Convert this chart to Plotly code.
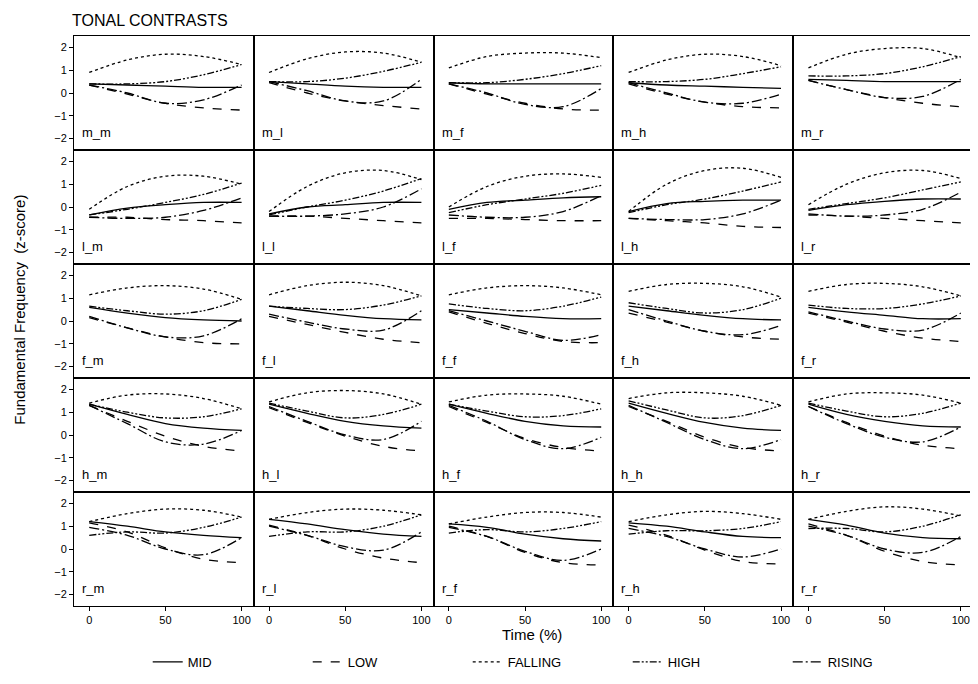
import plotly.graph_objects as go
from plotly.subplots import make_subplots

TIME = [0, 25, 50, 75, 100]
TONES = ["m", "l", "f", "h", "r"]
Y_TICKS = [-2, -1, 0, 1, 2]
X_TICKS = [0, 50, 100]

MID = {
    "m_m": [0.4, 0.35, 0.3, 0.25, 0.25], "m_l": [0.5, 0.4, 0.3, 0.25, 0.25],
    "m_f": [0.45, 0.4, 0.4, 0.4, 0.4], "m_h": [0.45, 0.35, 0.3, 0.25, 0.2],
    "m_r": [0.6, 0.55, 0.5, 0.5, 0.5],
    "l_m": [-0.35, -0.05, 0.1, 0.2, 0.2], "l_l": [-0.3, 0.0, 0.1, 0.2, 0.2],
    "l_f": [-0.1, 0.2, 0.3, 0.4, 0.45], "l_h": [-0.2, 0.15, 0.25, 0.3, 0.3],
    "l_r": [-0.15, 0.1, 0.25, 0.35, 0.35],
    "f_m": [0.6, 0.35, 0.15, 0.05, 0.0], "f_l": [0.65, 0.45, 0.25, 0.1, 0.05],
    "f_f": [0.5, 0.35, 0.2, 0.1, 0.1], "f_h": [0.65, 0.45, 0.25, 0.1, 0.05],
    "f_r": [0.6, 0.4, 0.25, 0.1, 0.1],
    "h_m": [1.35, 0.9, 0.5, 0.3, 0.2], "h_l": [1.35, 0.95, 0.6, 0.4, 0.3],
    "h_f": [1.35, 0.95, 0.6, 0.4, 0.35], "h_h": [1.4, 0.95, 0.55, 0.3, 0.2],
    "h_r": [1.35, 0.9, 0.6, 0.4, 0.35],
    "r_m": [1.2, 1.0, 0.75, 0.6, 0.5], "r_l": [1.3, 1.1, 0.85, 0.65, 0.55],
    "r_f": [1.1, 0.95, 0.65, 0.45, 0.35], "r_h": [1.15, 1.0, 0.75, 0.55, 0.5],
    "r_r": [1.3, 1.05, 0.7, 0.5, 0.45],
}
LOW = {
    "m_m": [0.35, -0.05, -0.45, -0.65, -0.75], "m_l": [0.45, 0.0, -0.35, -0.55, -0.7],
    "m_f": [0.4, -0.05, -0.45, -0.7, -0.75], "m_h": [0.4, -0.05, -0.4, -0.6, -0.65],
    "m_r": [0.55, 0.15, -0.2, -0.45, -0.6],
    "l_m": [-0.45, -0.45, -0.55, -0.6, -0.7], "l_l": [-0.4, -0.4, -0.5, -0.6, -0.7],
    "l_f": [-0.5, -0.5, -0.55, -0.6, -0.6], "l_h": [-0.5, -0.6, -0.7, -0.85, -0.9],
    "l_r": [-0.35, -0.4, -0.5, -0.6, -0.7],
    "f_m": [0.15, -0.3, -0.7, -0.95, -1.0], "f_l": [0.2, -0.15, -0.5, -0.8, -0.95],
    "f_f": [0.4, -0.1, -0.55, -0.9, -0.95], "f_h": [0.35, -0.05, -0.45, -0.7, -0.8],
    "f_r": [0.35, -0.05, -0.45, -0.75, -0.9],
    "h_m": [1.3, 0.6, -0.05, -0.5, -0.7], "h_l": [1.2, 0.55, -0.05, -0.5, -0.7],
    "h_f": [1.25, 0.55, -0.15, -0.55, -0.7], "h_h": [1.25, 0.6, -0.1, -0.55, -0.7],
    "h_r": [1.25, 0.55, -0.05, -0.45, -0.6],
    "r_m": [1.15, 0.75, 0.05, -0.45, -0.6], "r_l": [1.05, 0.6, 0.0, -0.4, -0.6],
    "r_f": [1.0, 0.55, -0.15, -0.6, -0.7], "r_h": [1.05, 0.6, -0.05, -0.55, -0.65],
    "r_r": [1.1, 0.6, -0.1, -0.55, -0.7],
}
FALLING = {
    "m_m": [0.9, 1.45, 1.7, 1.6, 1.25], "m_l": [0.9, 1.5, 1.8, 1.75, 1.35],
    "m_f": [1.1, 1.6, 1.75, 1.75, 1.55], "m_h": [0.9, 1.45, 1.7, 1.6, 1.2],
    "m_r": [1.1, 1.7, 1.95, 1.95, 1.55],
    "l_m": [-0.1, 0.9, 1.35, 1.35, 1.0], "l_l": [-0.2, 0.9, 1.5, 1.6, 1.2],
    "l_f": [0.0, 0.9, 1.35, 1.45, 1.3], "l_h": [-0.2, 1.0, 1.6, 1.7, 1.3],
    "l_r": [0.1, 1.0, 1.5, 1.6, 1.25],
    "f_m": [1.15, 1.45, 1.55, 1.4, 0.95], "f_l": [1.15, 1.55, 1.7, 1.55, 1.1],
    "f_f": [1.15, 1.45, 1.55, 1.45, 1.15], "f_h": [1.3, 1.6, 1.65, 1.5, 1.05],
    "f_r": [1.3, 1.6, 1.65, 1.5, 1.1],
    "h_m": [1.4, 1.75, 1.8, 1.6, 1.15], "h_l": [1.45, 1.85, 1.95, 1.8, 1.35],
    "h_f": [1.45, 1.75, 1.8, 1.7, 1.35], "h_h": [1.6, 1.85, 1.85, 1.7, 1.3],
    "h_r": [1.45, 1.8, 1.85, 1.75, 1.4],
    "r_m": [1.2, 1.55, 1.75, 1.7, 1.4], "r_l": [1.3, 1.6, 1.75, 1.7, 1.5],
    "r_f": [1.1, 1.4, 1.6, 1.6, 1.4], "r_h": [1.2, 1.5, 1.65, 1.55, 1.3],
    "r_r": [1.3, 1.65, 1.85, 1.75, 1.45],
}
HIGH = {
    "m_m": [0.4, 0.4, 0.5, 0.8, 1.25], "m_l": [0.5, 0.5, 0.65, 0.95, 1.35],
    "m_f": [0.45, 0.45, 0.6, 0.85, 1.2], "m_h": [0.5, 0.5, 0.6, 0.85, 1.15],
    "m_r": [0.75, 0.75, 0.85, 1.15, 1.6],
    "l_m": [-0.35, -0.1, 0.2, 0.55, 1.05], "l_l": [-0.35, 0.0, 0.3, 0.7, 1.25],
    "l_f": [-0.25, 0.1, 0.35, 0.6, 0.95], "l_h": [-0.25, 0.1, 0.35, 0.7, 1.1],
    "l_r": [-0.1, 0.15, 0.4, 0.75, 1.1],
    "f_m": [0.65, 0.45, 0.3, 0.45, 0.95], "f_l": [0.65, 0.55, 0.5, 0.7, 1.1],
    "f_f": [0.75, 0.55, 0.45, 0.65, 1.05], "f_h": [0.8, 0.55, 0.35, 0.5, 1.0],
    "f_r": [0.7, 0.55, 0.55, 0.75, 1.1],
    "h_m": [1.35, 1.0, 0.75, 0.8, 1.15], "h_l": [1.4, 1.05, 0.75, 0.9, 1.35],
    "h_f": [1.35, 1.05, 0.8, 0.85, 1.15], "h_h": [1.5, 1.1, 0.75, 0.85, 1.3],
    "h_r": [1.4, 1.05, 0.8, 0.95, 1.4],
    "r_m": [0.6, 0.75, 0.7, 0.95, 1.4], "r_l": [0.55, 0.75, 0.75, 1.0, 1.5],
    "r_f": [0.7, 0.85, 0.75, 0.9, 1.2], "r_h": [0.65, 0.8, 0.8, 0.9, 1.2],
    "r_r": [0.9, 0.9, 0.75, 1.0, 1.5],
}
RISING = {
    "m_m": [0.35, 0.0, -0.45, -0.3, 0.35], "m_l": [0.5, 0.1, -0.35, -0.35, 0.6],
    "m_f": [0.4, 0.0, -0.5, -0.6, 0.2], "m_h": [0.45, 0.0, -0.4, -0.45, -0.05],
    "m_r": [0.55, 0.15, -0.2, -0.15, 0.6],
    "l_m": [-0.45, -0.5, -0.45, -0.15, 0.4], "l_l": [-0.4, -0.4, -0.3, 0.0, 0.8],
    "l_f": [-0.35, -0.45, -0.45, -0.2, 0.5], "l_h": [-0.5, -0.55, -0.55, -0.3, 0.3],
    "l_r": [-0.3, -0.4, -0.35, -0.1, 0.65],
    "f_m": [0.2, -0.3, -0.7, -0.65, 0.1], "f_l": [0.3, -0.05, -0.35, -0.4, 0.45],
    "f_f": [0.45, 0.0, -0.45, -0.85, -0.6], "f_h": [0.5, 0.0, -0.45, -0.6, -0.2],
    "f_r": [0.4, 0.0, -0.35, -0.4, 0.35],
    "h_m": [1.3, 0.5, -0.3, -0.4, 0.2], "h_l": [1.25, 0.6, 0.0, -0.2, 0.6],
    "h_f": [1.3, 0.6, -0.2, -0.6, -0.1], "h_h": [1.3, 0.55, -0.2, -0.6, -0.2],
    "h_r": [1.25, 0.5, -0.1, -0.3, 0.35],
    "r_m": [0.95, 0.6, 0.0, -0.25, 0.5], "r_l": [1.0, 0.6, 0.1, -0.05, 0.75],
    "r_f": [0.95, 0.55, -0.1, -0.5, 0.0], "r_h": [0.9, 0.55, 0.0, -0.35, 0.0],
    "r_r": [1.0, 0.6, 0.0, -0.15, 0.55],
}

SERIES = [
    ("MID", MID, "solid"),
    ("LOW", LOW, "dash"),
    ("FALLING", FALLING, "dot"),
    ("HIGH", HIGH, "7px,2px,2px,2px,2px,2px"),
    ("RISING", RISING, "10px,3px,2px,3px"),
]

FONT = "Liberation Sans, Arial, sans-serif"

fig = make_subplots(rows=5, cols=5, horizontal_spacing=0, vertical_spacing=0)

for r, t1 in enumerate(TONES, start=1):
    for c, t2 in enumerate(TONES, start=1):
        key = f"{t1}_{t2}"
        for name, data, dash in SERIES:
            fig.add_trace(
                go.Scatter(
                    x=TIME, y=data[key], mode="lines", name=name,
                    line=dict(color="black", width=1.3, dash=dash, shape="spline", smoothing=1.0),
                    showlegend=(r == 1 and c == 1), legendgroup=name,
                ),
                row=r, col=c,
            )
        fig.add_annotation(
            x=-6, y=-1.75, text=key, showarrow=False, xanchor="left", yanchor="middle",
            font=dict(family=FONT, size=13, color="black"), row=r, col=c,
        )

fig.update_xaxes(
    range=[-10, 108], showgrid=False, zeroline=False, showline=True, linecolor="black",
    linewidth=1, mirror=True, tickvals=X_TICKS, showticklabels=False, ticks="",
)
fig.update_yaxes(
    range=[-2.5, 2.5], showgrid=False, zeroline=False, showline=True, linecolor="black",
    linewidth=1, mirror=True, tickvals=Y_TICKS, showticklabels=False, ticks="",
)
for c in range(1, 6):
    fig.update_xaxes(showticklabels=True, ticks="outside", ticklen=4, tickcolor="black",
                     tickfont=dict(family=FONT, size=11, color="black"), row=5, col=c)
for r in range(1, 6):
    fig.update_yaxes(showticklabels=True, ticks="outside", ticklen=4, tickcolor="black",
                     tickfont=dict(family=FONT, size=11, color="black"), row=r, col=1)

fig.add_annotation(
    x=-0.005, y=1.046, xref="paper", yref="paper", text="TONAL CONTRASTS", showarrow=False,
    xanchor="left", yanchor="top", font=dict(family=FONT, size=16, color="black"),
)
fig.add_annotation(
    x=-0.06, y=0.52, xref="paper", yref="paper", text="Fundamental Frequency  (z-score)",
    showarrow=False, textangle=-90, xanchor="center", yanchor="middle",
    font=dict(family=FONT, size=15, color="black"),
)
fig.add_annotation(
    x=0.51, y=-0.05, xref="paper", yref="paper", text="Time (%)", showarrow=False,
    xanchor="center", yanchor="middle", font=dict(family=FONT, size=15, color="black"),
)

fig.update_layout(
    width=978, height=684,
    margin=dict(l=66, r=13, t=28, b=86),
    paper_bgcolor="white", plot_bgcolor="white",
    showlegend=True,
    legend=dict(
        orientation="h", x=0.082, y=-0.098, xanchor="left", yanchor="middle",
        entrywidth=115, entrywidthmode="pixels",
        font=dict(family=FONT, size=13, color="black"), bgcolor="rgba(0,0,0,0)",
    ),
)

fig.write_html("out.html")
